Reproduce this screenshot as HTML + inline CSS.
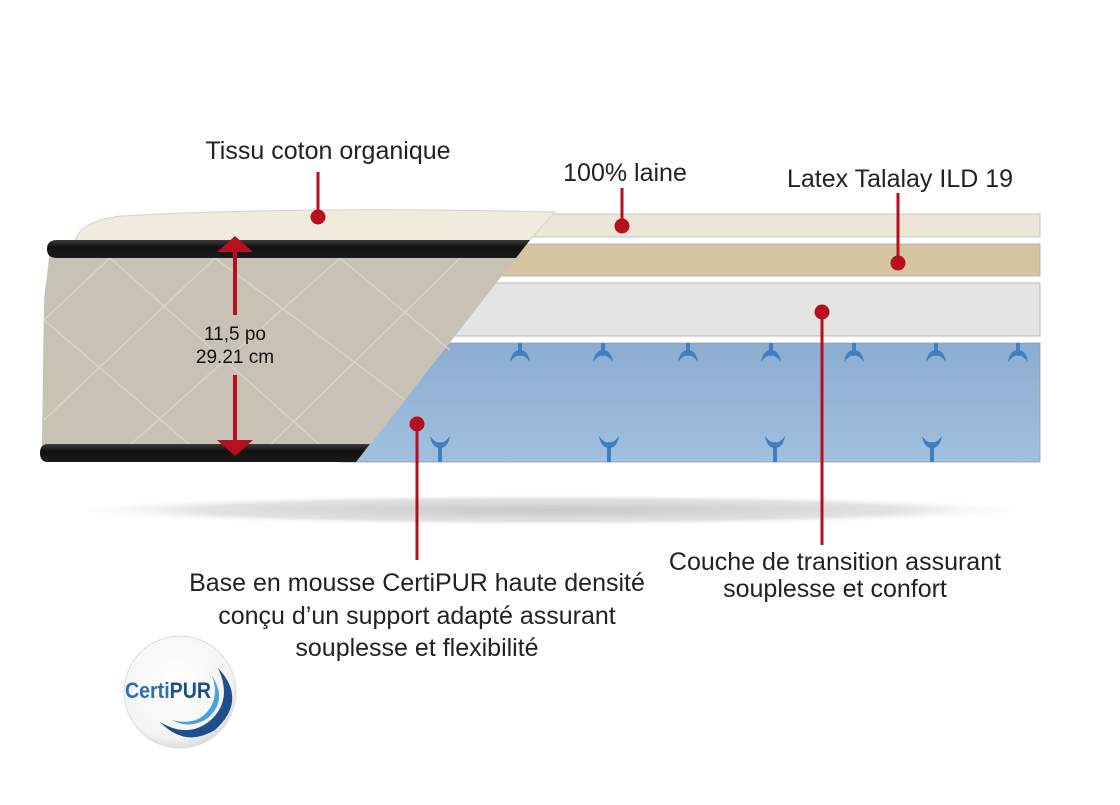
<!DOCTYPE html>
<html><head><meta charset="utf-8"><style>
html,body{margin:0;padding:0;background:#fff;}
body{width:1120px;height:800px;overflow:hidden;font-family:"Liberation Sans",Arial,sans-serif;}
</style></head><body>
<svg width="1120" height="800" viewBox="0 0 1120 800" xmlns="http://www.w3.org/2000/svg">
<defs>
<radialGradient id="sh" cx="0.5" cy="0.5" r="0.5">
<stop offset="0" stop-color="#c8c8c8"/><stop offset="0.7" stop-color="#e2e2e2"/><stop offset="1" stop-color="#fff" stop-opacity="0"/>
</radialGradient>
<linearGradient id="blue" x1="0" y1="0" x2="0" y2="1"><stop offset="0" stop-color="#8badd0"/><stop offset="1" stop-color="#a0c0e0"/></linearGradient>
<linearGradient id="band" x1="0" y1="0" x2="0" y2="1"><stop offset="0" stop-color="#3a3a3a"/><stop offset="0.4" stop-color="#111"/><stop offset="1" stop-color="#1a1a1a"/></linearGradient>
<radialGradient id="logo" cx="0.45" cy="0.4" r="0.6"><stop offset="0" stop-color="#fff"/><stop offset="0.85" stop-color="#f4f4f4"/><stop offset="1" stop-color="#ddd"/></radialGradient>
<g id="pt" fill="#3d7fc0"><rect x="-2" y="343" width="4" height="9"/><path d="M-10 362 Q-8 350 0 350 Q8 350 10 362 Q4 354 0 356 Q-4 354 -10 362Z"/></g>
<g id="pb" fill="#3d7fc0"><rect x="-2" y="444" width="4" height="18"/><path d="M-10 436 Q-8 448 0 448 Q8 448 10 436 Q4 444 0 442 Q-4 444 -10 436Z"/></g>
</defs>
<ellipse cx="550" cy="510" rx="500" ry="16" fill="url(#sh)"/>
<rect x="520" y="214" width="520" height="23" fill="#ece7d8" stroke="#bbb" stroke-width="0.8"/>
<rect x="480" y="244" width="560" height="32" fill="#d4c49f" stroke="#aaa" stroke-width="0.8"/>
<rect x="440" y="283" width="600" height="53" fill="#e4e4e4" stroke="#aaa" stroke-width="0.8"/>
<rect x="340" y="343" width="700" height="119" fill="url(#blue)" stroke="#999" stroke-width="0.8"/>
<use href="#pt" x="520"/><use href="#pt" x="603"/><use href="#pt" x="688"/><use href="#pt" x="771"/><use href="#pt" x="854"/><use href="#pt" x="936"/><use href="#pt" x="1018"/>
<use href="#pb" x="440"/><use href="#pb" x="609"/><use href="#pb" x="775"/><use href="#pb" x="932"/>
<polygon points="50,250 522,250 370,445 42,445 44,300" fill="#c8c2b6"/>
<rect x="330" y="463" width="40" height="10" fill="#fff"/>
<g stroke="#ddd8cc" stroke-width="1.5" fill="none" opacity="0.8">
<line x1="44" y1="320" x2="110" y2="258"/><line x1="44" y1="320" x2="190" y2="445"/>
<line x1="110" y1="258" x2="320" y2="445"/><line x1="44" y1="420" x2="215" y2="258"/>
<line x1="215" y1="258" x2="405" y2="400"/><line x1="130" y1="445" x2="340" y2="258"/>
<line x1="340" y1="258" x2="450" y2="350"/><line x1="270" y1="445" x2="460" y2="258"/>
</g>
<path d="M75 242 Q78 222 120 216 Q300 206 555 212 L528 242 Z" fill="#f0ebdc" stroke="#d8d2c2" stroke-width="1"/>
<path d="M57 240 L530 240 L516 258 L57 258 Q47 258 47 249 Q47 240 57 240Z" fill="url(#band)"/>
<path d="M48 444 L370 444 L356 462 L48 462 Q40 462 40 453 Q40 444 48 444Z" fill="url(#band)"/>
<g fill="#b80f1e" stroke="#b80f1e">
<line x1="235" y1="250" x2="235" y2="315" stroke-width="4"/>
<line x1="235" y1="375" x2="235" y2="440" stroke-width="4"/>
<polygon points="235,236 217,252 253,252" stroke="none"/>
<polygon points="235,456 217,440 253,440" stroke="none"/>
</g>
<text x="235" y="340" font-size="19" text-anchor="middle" fill="#111">11,5 po</text>
<text x="235" y="363" font-size="19" text-anchor="middle" fill="#111">29.21 cm</text>
<g stroke="#b80f1e" stroke-width="3" fill="#b80f1e">
<line x1="318" y1="172" x2="318" y2="217"/><circle cx="318" cy="217" r="7.5" stroke="none"/>
<line x1="622" y1="188" x2="622" y2="226"/><circle cx="622" cy="226" r="7.5" stroke="none"/>
<line x1="898" y1="193" x2="898" y2="263"/><circle cx="898" cy="263" r="7.5" stroke="none"/>
<line x1="822" y1="312" x2="822" y2="545"/><circle cx="822" cy="312" r="7.5" stroke="none"/>
<line x1="417" y1="424" x2="417" y2="560"/><circle cx="417" cy="424" r="7.5" stroke="none"/>
</g>
<g font-size="25" fill="#222" text-anchor="middle">
<text x="328" y="159">Tissu coton organique</text>
<text x="625" y="181">100% laine</text>
<text x="900" y="187">Latex Talalay ILD 19</text>
<text x="835" y="570">Couche de transition assurant</text>
<text x="835" y="597">souplesse et confort</text>
<text x="417" y="591">Base en mousse CertiPUR haute densité</text>
<text x="417" y="624">conçu d’un support adapté assurant</text>
<text x="417" y="656">souplesse et flexibilité</text>
</g>
<circle cx="180" cy="692" r="56" fill="url(#logo)" stroke="#ddd"/>
<path d="M218 668 Q248 700 215 730 Q185 748 160 722 Q190 740 213 718 Q232 698 218 668Z" fill="#1f4e8c"/>
<path d="M212 676 Q228 700 208 718 Q190 730 172 720 Q195 726 207 712 Q220 697 212 676Z" fill="#4aa3d8"/>
<text x="125" y="698" font-size="22" font-weight="bold" fill="#2a6fb0" textLength="86" lengthAdjust="spacingAndGlyphs">Certi<tspan fill="#1f4e8c">PUR</tspan></text>
</svg>
</body></html>
